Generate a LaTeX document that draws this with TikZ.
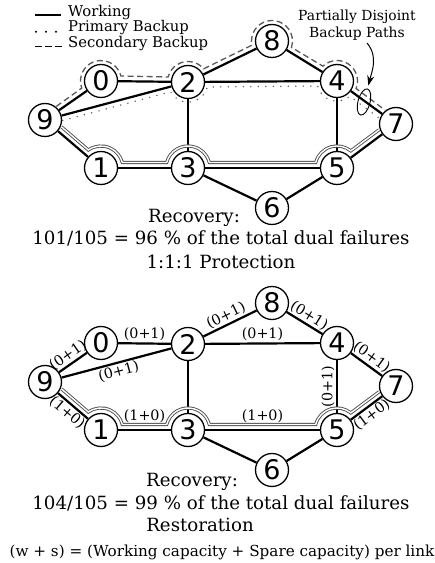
\documentclass[tikz,border=0pt]{standalone}
\usepackage{fontspec}
\setmainfont{DejaVu Serif}
\newfontfamily\digitfont{DejaVu Sans}
\usetikzlibrary{calc,arrows.meta,shapes.geometric}
\tikzset{
 nd/.style={circle, draw, fill=white, line width=1.3pt, minimum size=33pt, inner sep=0pt, font=\digitfont\fontsize{27}{27}\selectfont},
 wk/.style={line width=2.2pt},
 dbl/.style={draw=black!70, double=white, line width=0.9pt, double distance=1.4pt},
 sec/.style={draw=black!65, line width=1.3pt, dash pattern=on 6pt off 3.5pt},
 pri/.style={draw=black!65, line width=1.6pt, dash pattern=on 0pt off 7.5pt, line cap=round},
 lab/.style={font=\fontsize{14.3}{15}\selectfont, inner sep=1.2pt},
 txt/.style={font=\fontsize{18.2}{20}\selectfont, anchor=base, inner sep=0pt},
 lgd/.style={font=\fontsize{14.8}{16}\selectfont, anchor=base west, inner sep=0pt},
 ann/.style={font=\fontsize{13.9}{15}\selectfont, anchor=base, inner sep=0pt},
}
\newcommand\netnodes[1]{%
 \node[nd] (#10) at (101,482) {0};
 \node[nd] (#12) at (188,481) {2};
 \node[nd] (#18) at (272,522) {8};
 \node[nd] (#14) at (337,482) {4};
 \node[nd] (#19) at (45,443) {9};
 \node[nd] (#17) at (396,439) {7};
 \node[nd] (#11) at (101,395) {1};
 \node[nd] (#13) at (188,395) {3};
 \node[nd] (#15) at (337,395) {5};
 \node[nd] (#16) at (272,355) {6};
}
\newcommand\dblpath[1]{%
 \draw[dbl] ($(#19)+(16.5,-6.9)$) -- ($(#11)+(125:22pt)$)
   arc[start angle=125, end angle=14.5, radius=22pt]
   -- ($(#13)+(165.5:22pt)$) arc[start angle=165.5, end angle=14.5, radius=22pt]
   -- ($(#15)+(165.5:22pt)$) arc[start angle=165.5, end angle=51.1, radius=22pt]
   -- ($(#17)+(-16.9,-5.8)$);
}
\begin{document}
\begin{tikzpicture}[x=1pt,y=1pt]
\useasboundingbox (0,0) rectangle (435,563);
% legend
\draw[line width=2pt] (35,548) -- (61,548);
\foreach \x in {36,46,56} \fill (\x,531.3) circle (1.1pt);
\foreach \x in {35,45,55} \draw[line width=1.6pt] (\x,516.3) -- ++(7,0);
\node[lgd] (lw) at (68,546.5) {Working};
\node[lgd] (lp) at (68,531) {Primary Backup};
\node[lgd] (ls) at (68,515) {Secondary Backup};
% annotation
\node[ann] (ann1) at (357,542.3) {Partially Disjoint};
\node[ann] (ann2) at (357,525.7) {Backup Paths};
% top graph
\netnodes{t}
\draw[wk] (t9) -- (t0);
\draw[wk] (t0) -- (t2);
\draw[wk] (t9) -- (t2);
\draw[wk] (t2) -- (t8);
\draw[wk] (t2) -- (t4);
\draw[wk] (t8) -- (t4);
\draw[wk] (t2) -- (t3);
\draw[wk] (t4) -- (t5);
\draw[wk] (t4) -- (t7);
\draw[wk] (t9) -- (t1);
\draw[wk] (t1) -- (t3);
\draw[wk] (t3) -- (t5);
\draw[wk] (t3) -- (t6);
\draw[wk] (t6) -- (t5);
\draw[wk] (t5) -- (t7);
\dblpath{t}
\draw[sec] ($(t9)+(11.3,13.6)$) -- ($(t0)+(200.2:20.5pt)$)
  arc[start angle=200.2, end angle=14.1, radius=20.5pt]
  -- ($(t2)+(165.9:20.5pt)$) arc[start angle=165.9, end angle=40.1, radius=20.5pt]
  -- ($(t8)+(191.8:20.5pt)$) arc[start angle=191.8, end angle=-18.2, radius=20.5pt]
  -- ($(t4)+(133.6:20.5pt)$) arc[start angle=133.6, end angle=-21.4, radius=20.5pt]
  -- ($(t7)+(-11,13.9)$);
\draw[pri] ($(t9)+(17.7,-0.5)$) -- ($(t2)+(209.4:20pt)$)
  arc[start angle=209.4, end angle=345.5, radius=20pt]
  -- ($(t4)+(194.5:20pt)$) arc[start angle=194.5, end angle=310.1, radius=20pt]
  -- ($(t7)+(-16.8,5.8)$);
\node[ellipse, draw, line width=0.9pt, minimum width=12pt, minimum height=27pt, inner sep=0pt, rotate=-15] (ell) at (364,461) {};
\coordinate (as) at (367,520);
\draw[line width=1pt, -{Stealth[length=10pt,width=7pt]}, shorten >=3pt] (as) to[out=-50,in=76] (ell.north);
\node[txt] (rec1) at (194,340.3) {Recovery:};
\node[txt] (res1) at (221,318) {101/105 = 96 \% of the total dual failures};
\node[txt] (prot) at (221,294.7) {1:1:1 Protection};
% bottom graph
\begin{scope}[yshift=-262pt]
\netnodes{b}
\draw[wk] (b9) -- node[lab, sloped, above] {(0+1)} (b0);
\draw[wk] (b0) -- node[lab, above] {(0+1)} (b2);
\draw[wk] (b9) -- node[lab, sloped, below] {(0+1)} (b2);
\draw[wk] (b2) -- node[lab, sloped, above] {(0+1)} (b8);
\draw[wk] (b2) -- node[lab, above] {(0+1)} (b4);
\draw[wk] (b8) -- node[lab, sloped, above] {(0+1)} (b4);
\draw[wk] (b2) -- (b3);
\draw[wk] (b5) -- node[lab, sloped, above] {(0+1)} (b4);
\draw[wk] (b4) -- node[lab, sloped, above] {(0+1)} (b7);
\draw[wk] (b9) -- node[lab, sloped, below] {(1+0)} (b1);
\draw[wk] (b1) -- node[lab, above=5pt] {(1+0)} (b3);
\draw[wk] (b3) -- node[lab, above=5pt] {(1+0)} (b5);
\draw[wk] (b3) -- (b6);
\draw[wk] (b6) -- (b5);
\draw[wk] (b5) -- node[lab, sloped, below] {(1+0)} (b7);
\dblpath{b}
\end{scope}
\node[txt] (rec2) at (192,76.3) {Recovery:};
\node[txt] (res2) at (221,53.7) {104/105 = 99 \% of the total dual failures};
\node[txt] (rest) at (200,31.3) {Restoration};
\node[txt, font=\fontsize{15.2}{16}\selectfont] (foot) at (222,6.3) {(w + s) = (Working capacity + Spare capacity) per link};
\end{tikzpicture}
\end{document}
